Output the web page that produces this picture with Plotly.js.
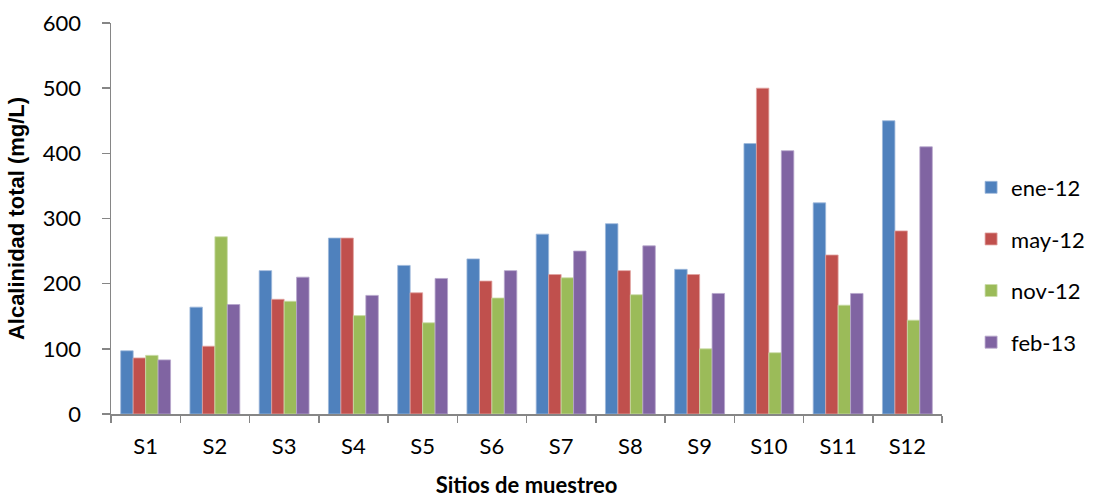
<!DOCTYPE html>
<html>
<head>
<meta charset="utf-8">
<script src="https://cdn.plot.ly/plotly-3.0.1.min.js"></script>
<style>
  html, body { margin: 0; padding: 0; background: #ffffff; }
  #chart { width: 1102px; height: 498px; }
</style>
</head>
<body>
<div id="chart"></div>
<script>
// Sampling sites
const sites = ["S1", "S2", "S3", "S4", "S5", "S6", "S7", "S8", "S9", "S10", "S11", "S12"];

// Total alkalinity (mg/L) per sampling campaign
const ene12 = [97, 164, 220, 270, 228, 238, 276, 292, 222, 415, 324, 450];
const may12 = [86, 104, 176, 270, 186, 204, 214, 220, 214, 500, 244, 281];
const nov12 = [90, 272, 173, 151, 140, 178, 209, 183, 100, 94, 167, 144];
const feb13 = [83, 168, 210, 182, 208, 220, 250, 258, 185, 404, 185, 410];

const seriesNames = ["ene-12", "may-12", "nov-12", "feb-13"];
const seriesColors = ["#4F81BD", "#C0504D", "#9BBB59", "#8064A2"];
const seriesEdges = ["#9DB7DA", "#E1A3A1", "#CADCA8", "#B6A6CB"];
const seriesValues = [ene12, may12, nov12, feb13];

const yTicks = [0, 100, 200, 300, 400, 500, 600];

const traces = seriesValues.map((vals, i) => ({
  type: "bar",
  name: seriesNames[i],
  x: sites,
  y: vals,
  legendgroup: "g" + i,
  marker: {
    color: seriesColors[i],
    line: { color: seriesEdges[i], width: 0.8 }
  },
  hoverinfo: "x+y+name"
}));

const baseFont = "Lato, 'Open Sans', sans-serif";
const tickFont = { family: baseFont, size: 22, color: "#000000" };

const layout = {
  width: 1102,
  height: 498,
  paper_bgcolor: "#ffffff",
  plot_bgcolor: "#ffffff",
  margin: { l: 111, r: 146, t: 23, b: 84, pad: 0 },
  barmode: "group",
  bargap: 0.28,
  bargroupgap: 0,
  showlegend: true,
  legend: {
    x: 1.035, xanchor: "left",
    y: 0.381, yanchor: "middle",
    font: { family: baseFont, size: 22, color: "#000000" },
    traceorder: "grouped",
    tracegroupgap: 20,
    itemwidth: 30,
    bgcolor: "rgba(0,0,0,0)"
  },
  xaxis: {
    type: "category",
    tickson: "boundaries",
    ticks: "outside",
    ticklen: 7,
    tickwidth: 1.5,
    tickcolor: "#868686",
    showline: true,
    linecolor: "#868686",
    linewidth: 1.5,
    showgrid: false,
    zeroline: false,
    tickfont: tickFont,
    ticklabelstandoff: 12,
    automargin: false,
    title: {
      text: "Sitios de muestreo",
      font: { family: baseFont, size: 22, color: "#000000", weight: "bold" },
      standoff: 24
    }
  },
  yaxis: {
    range: [0, 600],
    tickvals: yTicks,
    ticktext: yTicks.map(String),
    ticks: "outside",
    ticklen: 8,
    tickwidth: 1.5,
    tickcolor: "#868686",
    showline: true,
    linecolor: "#868686",
    linewidth: 1.5,
    showgrid: false,
    zeroline: false,
    tickfont: tickFont,
    ticklabelstandoff: 16,
    automargin: false,
    title: {
      text: "Alcalinidad total (mg/L)",
      font: { family: "'Liberation Sans', Arial, sans-serif", size: 22, color: "#000000", weight: "bold" },
      standoff: 12
    }
  }
};

Plotly.newPlot("chart", traces, layout, { displayModeBar: false, staticPlot: true });
</script>
</body>
</html>
